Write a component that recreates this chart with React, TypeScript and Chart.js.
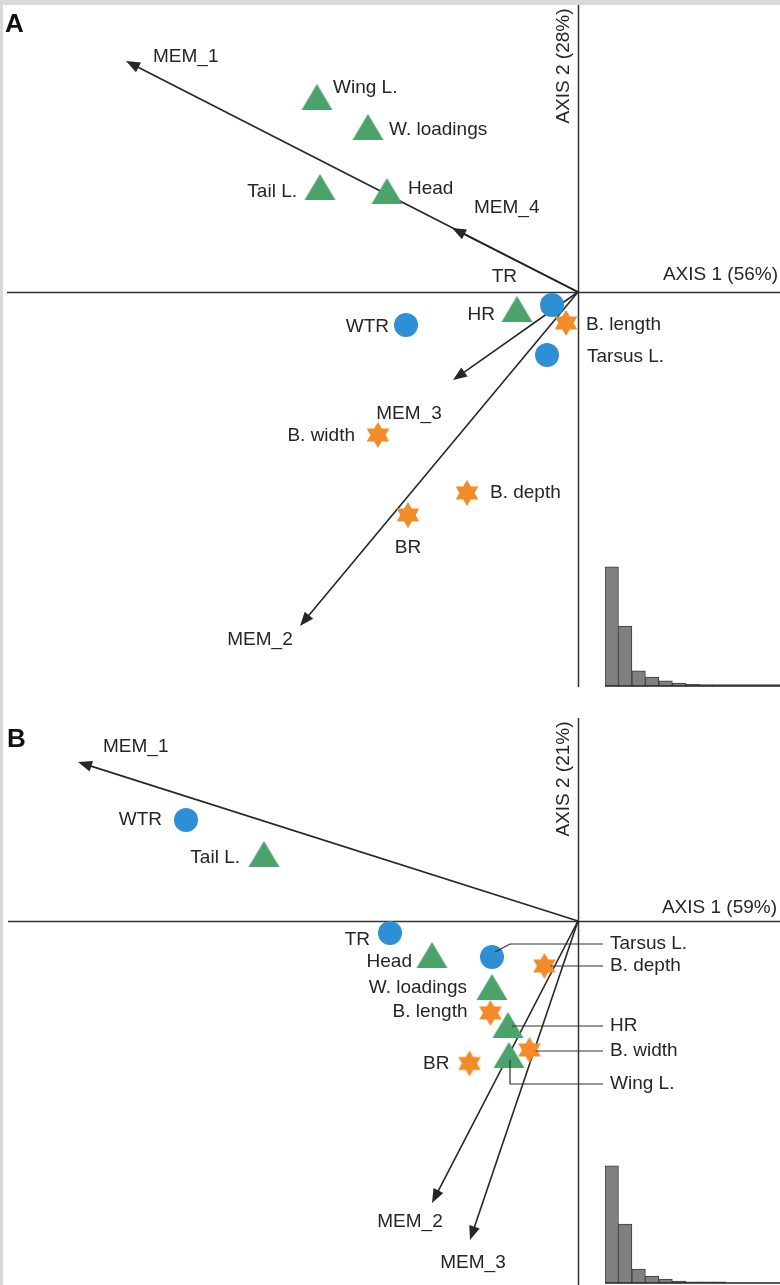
import { useEffect, useRef } from "react";
import { Chart, registerables } from "chart.js";

Chart.register(...registerables);

// ---------------- Panel A data (axis units) ----------------
const A_WING_NAMES = ["Wing L.", "W. loadings", "Tail L.", "Head", "HR"];
const A_WING_X = [-2.61, -2.1, -2.58, -1.91, -0.61];
const A_WING_Y = [1.95, 1.65, 1.05, 1.01, -0.17];
const A_LEG_NAMES = ["TR", "WTR", "Tarsus L."];
const A_LEG_X = [-0.26, -1.72, -0.31];
const A_LEG_Y = [-0.13, -0.33, -0.63];
const A_BEAK_NAMES = ["B. length", "B. width", "B. depth", "BR"];
const A_BEAK_X = [-0.12, -2.0, -1.11, -1.7];
const A_BEAK_Y = [-0.31, -1.43, -2.01, -2.23];
const A_MEM_NAMES = ["MEM_1", "MEM_2", "MEM_3", "MEM_4"];
const A_MEM_X = [-4.52, -2.78, -1.25, -1.26];
const A_MEM_Y = [2.31, -3.34, -0.88, 0.64];
const A_HIST = [56, 28.2, 7.1, 4.2, 2.4, 1.4, 0.8, 0.7, 0.7, 0.7, 0.7, 0.7, 0.7];

// ---------------- Panel B data (axis units) ----------------
const B_WING_NAMES = ["Tail L.", "Head", "W. loadings", "HR", "Wing L."];
const B_WING_X = [-3.14, -1.46, -0.86, -0.7, -0.69];
const B_WING_Y = [0.67, -0.34, -0.66, -1.04, -1.34];
const B_LEG_NAMES = ["WTR", "TR", "Tarsus L."];
const B_LEG_X = [-3.92, -1.88, -0.86];
const B_LEG_Y = [1.01, -0.12, -0.36];
const B_BEAK_NAMES = ["B. depth", "B. length", "B. width", "BR"];
const B_BEAK_X = [-0.335, -0.875, -0.485, -1.085];
const B_BEAK_Y = [-0.45, -0.92, -1.29, -1.425];
const B_MEM_NAMES = ["MEM_1", "MEM_2", "MEM_3"];
const B_MEM_X = [-5.0, -1.46, -1.08];
const B_MEM_Y = [1.59, -2.82, -3.19];
const B_HIST = [59, 29.7, 7.0, 3.5, 2.0, 1.0, 0.6, 0.6, 0.6, 0, 0, 0, 0];

// ---------------- styles & layout ----------------
const GREEN = "#4ca26b";
const BLUE = "#2f8fd5";
const ORANGE = "#f28b2a";
const INK = "#262626";
const FONT = '19px "Liberation Sans", Arial, Helvetica, sans-serif';
const BOLD = 'bold 26px "Liberation Sans", Arial, Helvetica, sans-serif';

type Align = "left" | "right" | "center";
type LabelPos = { dx: number; dy: number; align: Align };

const A_LABELS: Record<string, LabelPos> = {
  "Wing L.": { dx: 16, dy: -9, align: "left" },
  "W. loadings": { dx: 21, dy: 3, align: "left" },
  "Tail L.": { dx: -23, dy: 5, align: "right" },
  Head: { dx: 21, dy: -2, align: "left" },
  HR: { dx: -22, dy: 6, align: "right" },
  TR: { dx: -35, dy: -28, align: "right" },
  WTR: { dx: -17, dy: 2, align: "right" },
  "Tarsus L.": { dx: 40, dy: 2, align: "left" },
  "B. length": { dx: 20, dy: 2, align: "left" },
  "B. width": { dx: -23, dy: 1, align: "right" },
  "B. depth": { dx: 23, dy: 0, align: "left" },
  BR: { dx: 0, dy: 33, align: "center" },
  MEM_1: { dx: 27, dy: -4, align: "left" },
  MEM_2: { dx: -40, dy: 14, align: "center" },
  MEM_3: { dx: -44, dy: 34, align: "center" },
  MEM_4: { dx: 22, dy: -20, align: "left" },
};

const B_LABELS: Record<string, LabelPos> = {
  MEM_1: { dx: 25, dy: -15, align: "left" },
  MEM_2: { dx: -22, dy: 19, align: "center" },
  MEM_3: { dx: 3, dy: 23, align: "center" },
  WTR: { dx: -24, dy: 0, align: "right" },
  "Tail L.": { dx: -24, dy: 4, align: "right" },
  TR: { dx: -20, dy: 7, align: "right" },
  Head: { dx: -20, dy: 7, align: "right" },
  "W. loadings": { dx: -25, dy: 1, align: "right" },
  "B. length": { dx: -23, dy: -1, align: "right" },
  BR: { dx: -20, dy: 0, align: "right" },
};

type Leader = { name: string; path: [number, number][]; labelDy: number };
const B_LEADERS: Leader[] = [
  { name: "Tarsus L.", path: [[3, -5], [18, -13]], labelDy: -13 },
  { name: "B. depth", path: [[6, 0]], labelDy: 0 },
  { name: "HR", path: [[4, 1]], labelDy: 1 },
  { name: "B. width", path: [[6, 1]], labelDy: 1 },
  { name: "Wing L.", path: [[1, 5], [1, 29]], labelDy: 29 },
];

type Group = { names: string[]; xs: number[]; ys: number[] };

interface PanelCfg {
  letter: string;
  letterPos: [number, number];
  xRange: [number, number];
  yRange: [number, number];
  hAxis: [number, number];
  vAxis: [number, number];
  axis1: string;
  axis1Pos: [number, number];
  axis2: string;
  axis2Pos: [number, number];
  wing: Group;
  leg: Group;
  beak: Group;
  mem: Group;
  labels: Record<string, LabelPos>;
  leaders: Leader[];
}

const PANEL_A: PanelCfg = {
  letter: "A",
  letterPos: [5, 32],
  xRange: [-5.78, 2.02],
  yRange: [-4.08, 2.92],
  hAxis: [-5.71, 2.02],
  vAxis: [-3.95, 2.87],
  axis1: "AXIS 1 (56%)",
  axis1Pos: [200, -17],
  axis2: "AXIS 2 (28%)",
  axis2Pos: [-14, -226],
  wing: { names: A_WING_NAMES, xs: A_WING_X, ys: A_WING_Y },
  leg: { names: A_LEG_NAMES, xs: A_LEG_X, ys: A_LEG_Y },
  beak: { names: A_BEAK_NAMES, xs: A_BEAK_X, ys: A_BEAK_Y },
  mem: { names: A_MEM_NAMES, xs: A_MEM_X, ys: A_MEM_Y },
  labels: A_LABELS,
  leaders: [],
};

const PANEL_B: PanelCfg = {
  letter: "B",
  letterPos: [7, 47],
  xRange: [-5.78, 2.02],
  yRange: [-3.64, 2.21],
  hAxis: [-5.7, 2.02],
  vAxis: [-3.64, 2.03],
  axis1: "AXIS 1 (59%)",
  axis1Pos: [199, -13],
  axis2: "AXIS 2 (21%)",
  axis2Pos: [-14, -142],
  wing: { names: B_WING_NAMES, xs: B_WING_X, ys: B_WING_Y },
  leg: { names: B_LEG_NAMES, xs: B_LEG_X, ys: B_LEG_Y },
  beak: { names: B_BEAK_NAMES, xs: B_BEAK_X, ys: B_BEAK_Y },
  mem: { names: B_MEM_NAMES, xs: B_MEM_X, ys: B_MEM_Y },
  labels: B_LABELS,
  leaders: B_LEADERS,
};

function makeTriangle(w: number, h: number, color: string) {
  const c = document.createElement("canvas");
  c.width = w + 2;
  c.height = h + 2;
  const g = c.getContext("2d")!;
  g.fillStyle = color;
  g.beginPath();
  g.moveTo(c.width / 2, 1);
  g.lineTo(w + 1, h + 1);
  g.lineTo(1, h + 1);
  g.closePath();
  g.fill();
  return c;
}

function makeStar(r: number, ri: number, color: string) {
  const s = Math.ceil(2 * r + 2);
  const c = document.createElement("canvas");
  c.width = s;
  c.height = s;
  const g = c.getContext("2d")!;
  g.fillStyle = color;
  g.beginPath();
  for (let i = 0; i < 12; i++) {
    const a = -Math.PI / 2 + (i * Math.PI) / 6;
    const rad = i % 2 === 0 ? r : ri;
    const px = s / 2 + Math.cos(a) * rad;
    const py = s / 2 + Math.sin(a) * rad;
    if (i === 0) g.moveTo(px, py);
    else g.lineTo(px, py);
  }
  g.closePath();
  g.fill();
  return c;
}

function toPts(g: Group) {
  return g.xs.map((x, i) => ({ x, y: g.ys[i] }));
}

function drawArrow(ctx: CanvasRenderingContext2D, x0: number, y0: number, x1: number, y1: number) {
  const ang = Math.atan2(y1 - y0, x1 - x0);
  const L = 14;
  const W = 5.5;
  const bx = x1 - Math.cos(ang) * L;
  const by = y1 - Math.sin(ang) * L;
  ctx.beginPath();
  ctx.moveTo(x0, y0);
  ctx.lineTo(bx + Math.cos(ang) * 2, by + Math.sin(ang) * 2);
  ctx.stroke();
  ctx.beginPath();
  ctx.moveTo(x1, y1);
  ctx.lineTo(bx + Math.sin(ang) * W, by - Math.cos(ang) * W);
  ctx.lineTo(bx - Math.sin(ang) * W, by + Math.cos(ang) * W);
  ctx.closePath();
  ctx.fill();
}

function panelPlugin(cfg: PanelCfg) {
  return {
    id: "panelDecor" + cfg.letter,
    beforeDatasetsDraw(chart: any) {
      const ctx: CanvasRenderingContext2D = chart.ctx;
      const xs = chart.scales.x;
      const ys = chart.scales.y;
      const ox = xs.getPixelForValue(0);
      const oy = ys.getPixelForValue(0);
      ctx.save();
      ctx.strokeStyle = "#333";
      ctx.lineWidth = 1.5;
      ctx.beginPath();
      ctx.moveTo(xs.getPixelForValue(cfg.hAxis[0]), Math.round(oy) + 0.5);
      ctx.lineTo(xs.getPixelForValue(cfg.hAxis[1]), Math.round(oy) + 0.5);
      ctx.moveTo(Math.round(ox) + 0.5, ys.getPixelForValue(cfg.vAxis[1]));
      ctx.lineTo(Math.round(ox) + 0.5, ys.getPixelForValue(cfg.vAxis[0]));
      ctx.stroke();
      ctx.strokeStyle = INK;
      ctx.fillStyle = INK;
      ctx.lineWidth = 1.6;
      cfg.mem.xs.forEach((mx, i) => {
        drawArrow(ctx, ox, oy, xs.getPixelForValue(mx), ys.getPixelForValue(cfg.mem.ys[i]));
      });
      ctx.restore();
    },
    afterDatasetsDraw(chart: any) {
      const ctx: CanvasRenderingContext2D = chart.ctx;
      const xs = chart.scales.x;
      const ys = chart.scales.y;
      const ox = xs.getPixelForValue(0);
      const oy = ys.getPixelForValue(0);
      ctx.save();
      ctx.font = FONT;
      ctx.fillStyle = INK;
      ctx.textBaseline = "middle";
      const all: Group[] = [cfg.wing, cfg.leg, cfg.beak, cfg.mem];
      const pos: Record<string, [number, number]> = {};
      all.forEach((g) =>
        g.names.forEach((n, i) => {
          const px = xs.getPixelForValue(g.xs[i]);
          const py = ys.getPixelForValue(g.ys[i]);
          pos[n] = [px, py];
          const lp = cfg.labels[n];
          if (lp) {
            ctx.textAlign = lp.align;
            ctx.fillText(n, px + lp.dx, py + lp.dy);
          }
        })
      );
      // leader lines
      const col = ox + 25;
      ctx.strokeStyle = "#333";
      ctx.lineWidth = 1.2;
      cfg.leaders.forEach((ld) => {
        const p = pos[ld.name];
        if (!p) return;
        const ly = p[1] + ld.labelDy;
        ctx.beginPath();
        ld.path.forEach(([dx, dy], i) => {
          if (i === 0) ctx.moveTo(p[0] + dx, p[1] + dy);
          else ctx.lineTo(p[0] + dx, p[1] + dy);
        });
        ctx.lineTo(col, ly);
        ctx.stroke();
        ctx.textAlign = "left";
        ctx.fillText(ld.name, col + 7, ly);
      });
      // axis titles
      ctx.textAlign = "right";
      ctx.fillText(cfg.axis1, ox + cfg.axis1Pos[0], oy + cfg.axis1Pos[1]);
      ctx.save();
      ctx.translate(ox + cfg.axis2Pos[0], oy + cfg.axis2Pos[1]);
      ctx.rotate(-Math.PI / 2);
      ctx.textAlign = "center";
      ctx.fillText(cfg.axis2, 0, 0);
      ctx.restore();
      // panel letter
      ctx.font = BOLD;
      ctx.fillStyle = "#111";
      ctx.textAlign = "left";
      ctx.textBaseline = "alphabetic";
      ctx.fillText(cfg.letter, cfg.letterPos[0], cfg.letterPos[1]);
      ctx.restore();
    },
  };
}

function buildPanel(canvas: HTMLCanvasElement, cfg: PanelCfg) {
  const tri = makeTriangle(31, 26, GREEN);
  const star = makeStar(13, 7.6, ORANGE);
  return new Chart(canvas, {
    type: "scatter",
    data: {
      datasets: [
        {
          data: toPts(cfg.leg),
          pointStyle: "circle",
          pointRadius: 12,
          backgroundColor: BLUE,
          borderWidth: 0,
        },
        {
          data: toPts(cfg.wing),
          pointStyle: tri as any,
          pointRadius: 10,
          backgroundColor: GREEN,
          borderWidth: 0,
        },
        {
          data: toPts(cfg.beak),
          pointStyle: star as any,
          pointRadius: 10,
          backgroundColor: ORANGE,
          borderWidth: 0,
        },
      ],
    },
    options: {
      animation: false,
      responsive: false,
      events: [],
      layout: { padding: 0, autoPadding: false },
      plugins: { legend: { display: false }, tooltip: { enabled: false } },
      scales: {
        x: { type: "linear", min: cfg.xRange[0], max: cfg.xRange[1], display: false },
        y: { type: "linear", min: cfg.yRange[0], max: cfg.yRange[1], display: false },
      },
    },
    plugins: [panelPlugin(cfg)],
  });
}

const baselinePlugin = {
  id: "histBaseline",
  afterDatasetsDraw(chart: any) {
    const ctx: CanvasRenderingContext2D = chart.ctx;
    const y = chart.scales.y.getPixelForValue(0);
    ctx.save();
    ctx.strokeStyle = "#222";
    ctx.lineWidth = 1.5;
    ctx.beginPath();
    ctx.moveTo(chart.chartArea.left, y);
    ctx.lineTo(chart.chartArea.right, y);
    ctx.stroke();
    ctx.restore();
  },
};

function buildHist(canvas: HTMLCanvasElement, values: number[], max: number) {
  return new Chart(canvas, {
    type: "bar",
    data: {
      labels: values.map((_, i) => String(i + 1)),
      datasets: [
        {
          data: values,
          backgroundColor: "#808080",
          borderColor: "#3c3c3c",
          borderWidth: 1,
          categoryPercentage: 1,
          barPercentage: 1,
        },
      ],
    },
    options: {
      animation: false,
      responsive: false,
      events: [],
      layout: { padding: { bottom: 1, top: 0, left: 0, right: 0 }, autoPadding: false },
      plugins: { legend: { display: false }, tooltip: { enabled: false } },
      scales: {
        x: { display: false },
        y: { display: false, min: 0, max },
      },
    },
    plugins: [baselinePlugin],
  });
}

export default function App() {
  const aRef = useRef<HTMLCanvasElement>(null);
  const bRef = useRef<HTMLCanvasElement>(null);
  const haRef = useRef<HTMLCanvasElement>(null);
  const hbRef = useRef<HTMLCanvasElement>(null);

  useEffect(() => {
    document.body.style.margin = "0";
    const charts = [
      buildPanel(aRef.current!, PANEL_A),
      buildPanel(bRef.current!, PANEL_B),
      buildHist(haRef.current!, A_HIST, 58.8),
      buildHist(hbRef.current!, B_HIST, 63.0),
    ];
    return () => charts.forEach((c) => c.destroy());
  }, []);

  const abs = (l: number, t: number): React.CSSProperties => ({
    position: "absolute",
    left: l,
    top: t,
  });

  return (
    <div
      style={{
        position: "relative",
        width: 780,
        height: 1285,
        background: "#d9d9d9",
        overflow: "hidden",
      }}
    >
      <div style={{ position: "absolute", left: 3, top: 5, right: 0, bottom: 0, background: "#fff" }} />
      <canvas ref={aRef} width={780} height={700} style={abs(0, 0)} />
      <canvas ref={bRef} width={780} height={585} style={abs(0, 700)} />
      <canvas ref={haRef} width={175} height={126} style={abs(605, 561)} />
      <canvas ref={hbRef} width={175} height={126} style={abs(605, 1158)} />
    </div>
  );
}
